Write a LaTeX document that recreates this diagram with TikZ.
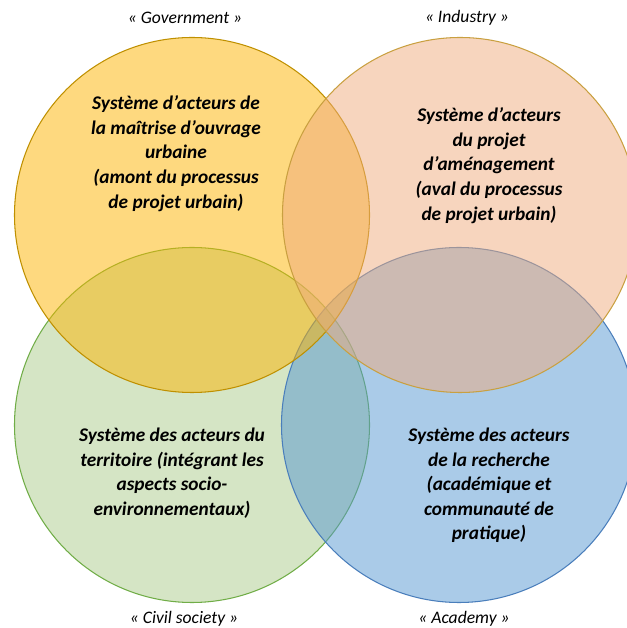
\documentclass[tikz,border=0pt]{standalone}
\usepackage{fontspec}
\setmainfont{Carlito}
\usetikzlibrary{positioning}
\definecolor{govcol}{HTML}{FDB300}
\definecolor{govline}{HTML}{BF9000}
\definecolor{indcol}{HTML}{EFAB7D}
\definecolor{indline}{HTML}{C9A040}
\definecolor{civcol}{HTML}{ABCB8B}
\definecolor{civline}{HTML}{70AD47}
\definecolor{acacol}{HTML}{5597D1}
\definecolor{acaline}{HTML}{4A7EBB}

\begin{document}
\begin{tikzpicture}[
  actors/.style={align=center, font=\fontsize{11}{14}\selectfont\bfseries\itshape},
  sphere/.style={font=\fontsize{10}{12}\selectfont\itshape},
  disc/.style={line width=0.6pt, fill opacity=0.5}]

\useasboundingbox (0,0) rectangle (12.54,12.56);
\clip (0,0) rectangle (12.54,12.56);

% ---------------------------------------------------------------- circles
\filldraw[disc, fill=civcol, draw=civline] (3.84,4.06) circle (3.55);
\filldraw[disc, fill=acacol, draw=acaline] (9.18,4.06) circle (3.55);
\filldraw[disc, fill=govcol, draw=govline] (3.84,8.26) circle (3.55);
\filldraw[disc, fill=indcol, draw=indline] (9.20,8.26) circle (3.55);

% ------------------------------------------------------------ actor texts
\node[actors] (gov) at (3.52,9.49)
  {Système d’acteurs de\\la maîtrise d’ouvrage\\urbaine\\(amont du processus\\de projet urbain)};
\node[actors] (ind) at (9.78,9.25)
  {Système d’acteurs\\du projet\\d’aménagement\\(aval du processus\\de projet urbain)};
\node[actors] (civ) at (3.44,3.10)
  {Système des acteurs du\\territoire (intégrant les\\aspects socio-\\environnementaux)};
\node[actors] (aca) at (9.78,2.85)
  {Système des acteurs\\de la recherche\\(académique et\\communauté de\\pratique)};

% ------------------------------------------------------------ sphere names
\node[sphere] (govlab) at (3.70,12.20) {« Government »};
\node[sphere] (indlab) at (9.34,12.20) {« Industry »};
\node[sphere] (civlab) at (3.68,0.18) {« Civil society »};
\node[sphere] (acalab) at (9.28,0.18) {« Academy »};

\end{tikzpicture}
\end{document}
